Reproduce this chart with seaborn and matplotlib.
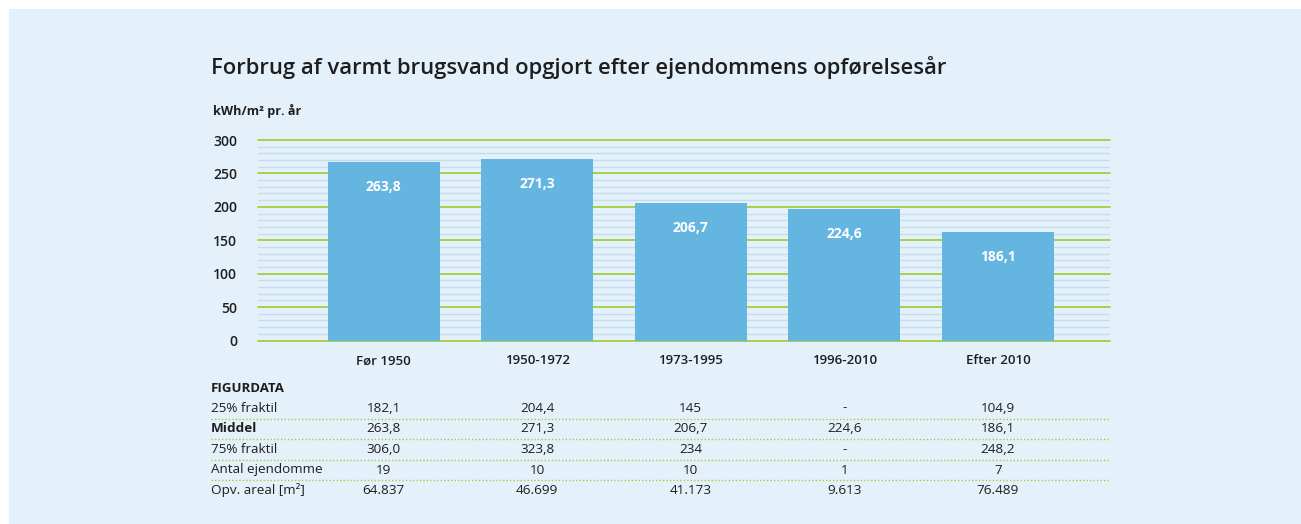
import matplotlib
matplotlib.use('Agg')
import matplotlib.pyplot as plt
import matplotlib.transforms as mtransforms
from matplotlib.lines import Line2D
from matplotlib.patches import Rectangle
from matplotlib.ticker import MultipleLocator
import seaborn as sns

# chart data
periods = ['Før 1950', '1950-1972', '1973-1995', '1996-2010', 'Efter 2010']
bar_heights = [267, 271.5, 205.5, 196.5, 162]
bar_labels = ['263,8', '271,3', '206,7', '224,6', '186,1']

# figurdata table
row_names = ['25% fraktil', 'Middel', '75% fraktil', 'Antal ejendomme', 'Opv. areal [m²]']
frac25 = ['182,1', '204,4', '145', '-', '104,9']
middel = ['263,8', '271,3', '206,7', '224,6', '186,1']
frac75 = ['306,0', '323,8', '234', '-', '248,2']
antal = ['19', '10', '10', '1', '7']
areal = ['64.837', '46.699', '41.173', '9.613', '76.489']

bg = '#e4f1fa'
bar_color = '#64b6e0'
green = '#a3cd3f'
minor_blue = '#c4ddf1'
text_col = '#1e1e1e'

sns.set_style('white')
plt.rcParams['font.family'] = ['Open Sans', 'DejaVu Sans']

W, H = 1301, 524
fig = plt.figure(figsize=(W / 100, H / 100), dpi=100)
fig.patch.set_facecolor('white')
fig.add_artist(Rectangle((9 / W, 0), 1, 1 - 9 / H, transform=fig.transFigure,
                         facecolor=bg, edgecolor='none', zorder=-10))

def fx(px):
    return px / W

def fy(py):
    return 1 - py / H

ax = fig.add_axes([fx(258), fy(340.5), fx(1110) - fx(258), (340.5 - 140) / H])
ax.set_facecolor('none')

sns.barplot(x=periods, y=bar_heights, color=bar_color, saturation=1,
            width=0.73, linewidth=0, ax=ax, zorder=3)

ax.set_xlim(-0.818, 4.73)
ax.set_ylim(0, 300)
ax.yaxis.set_major_locator(MultipleLocator(50))
ax.yaxis.set_minor_locator(MultipleLocator(10))
ax.grid(which='major', axis='y', color=green, linewidth=1.3, zorder=1)
ax.grid(which='minor', axis='y', color=minor_blue, linewidth=1.0, zorder=0)
ax.set_axisbelow(True)
for gl in ax.yaxis.get_gridlines():
    gl.set_clip_on(False)
for s in ax.spines.values():
    s.set_visible(False)
ax.tick_params(axis='both', which='both', length=0)
ax.tick_params(axis='y', pad=15, labelsize=10, labelcolor=text_col)
ax.tick_params(axis='x', pad=10, labelsize=9.5, labelcolor=text_col)
for lab in ax.get_xticklabels() + ax.get_yticklabels():
    lab.set_fontweight('semibold')
ax.set_xlabel('')
ax.set_ylabel('')

for i, (h, lab) in enumerate(zip(bar_heights, bar_labels)):
    ax.annotate(lab, (i, h), xytext=(0, -25), textcoords='offset pixels',
                ha='center', va='center', color='white', fontsize=10,
                fontweight='bold', zorder=5)

fig.text(fx(211), fy(68), 'Forbrug af varmt brugsvand opgjort efter ejendommens opførelsesår',
         fontsize=15.8, fontweight='semibold', color=text_col, va='center', ha='left')
fig.text(fx(213), fy(111), 'kWh/m² pr. år', fontsize=9.1, fontweight='bold',
         color=text_col, va='center', ha='left')

# table under the chart
trans = mtransforms.blended_transform_factory(ax.transData, fig.transFigure)
fig.text(fx(211), fy(388), 'FIGURDATA', fontsize=9.5, fontweight='bold',
         color=text_col, va='center', ha='left')
rows = [frac25, middel, frac75, antal, areal]
row_y = [408, 429, 449.5, 470, 490]
for name, vals, y in zip(row_names, rows, row_y):
    fig.text(fx(211), fy(y), name, fontsize=9.7, color=text_col, va='center', ha='left',
             fontweight='bold' if name == 'Middel' else 'normal')
    for i, v in enumerate(vals):
        fig.text(i, fy(y), v, transform=trans, fontsize=9.7, color=text_col,
                 va='center', ha='center')
for y in [418.5, 438.5, 459.5, 480]:
    fig.add_artist(Line2D([fx(211), fx(1110)], [fy(y), fy(y)], transform=fig.transFigure,
                          color=green, linewidth=1.0, linestyle=(0, (1, 1.5))))

fig.savefig('out.png', dpi=100, facecolor=fig.get_facecolor())
